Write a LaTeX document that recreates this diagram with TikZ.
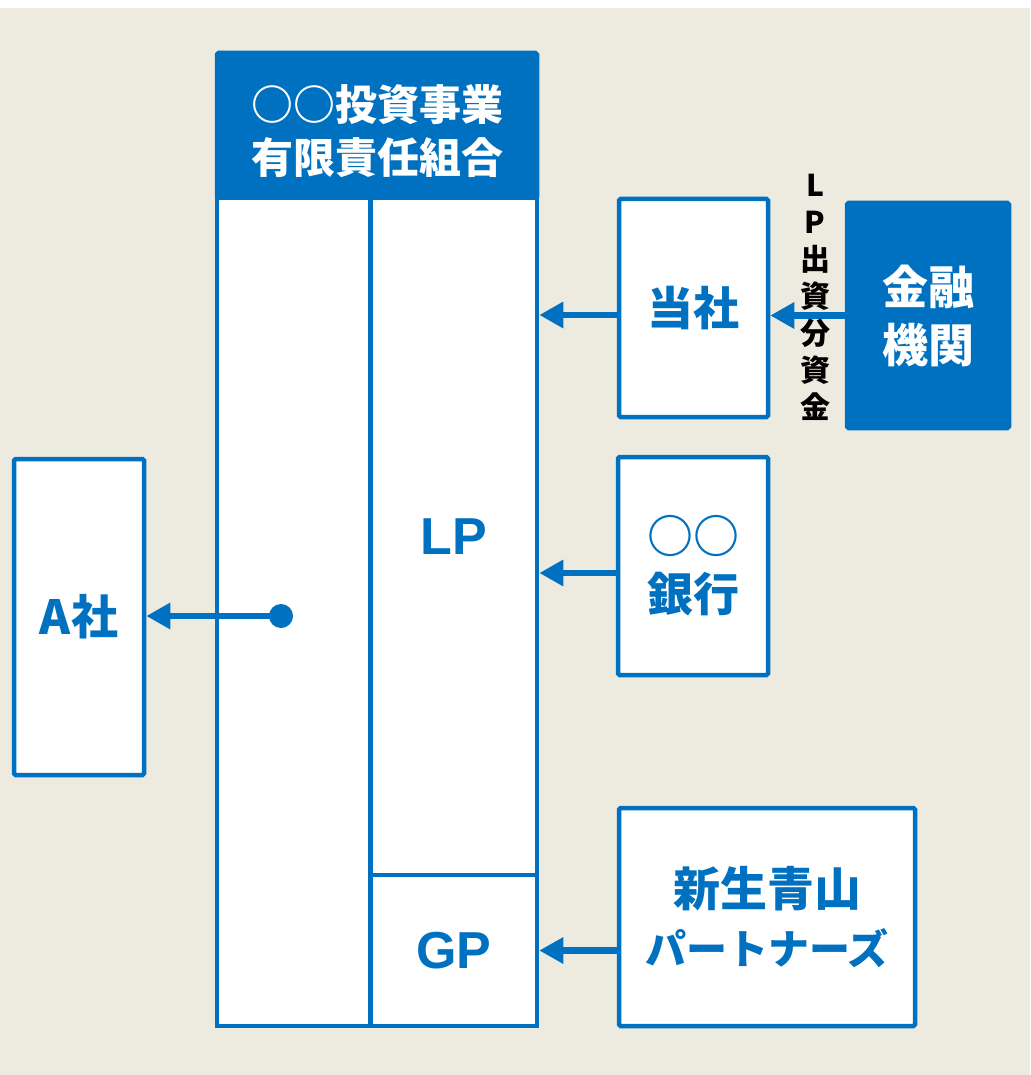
\documentclass[tikz,border=0pt]{standalone}
\usepackage{fontspec}
\setmainfont{Noto Sans CJK JP}
\newfontfamily\latinfont{Liberation Sans}
\usetikzlibrary{arrows.meta}
\definecolor{fblue}{RGB}{0,113,192}
\definecolor{bgc}{RGB}{237,235,224}
\begin{document}
\begin{tikzpicture}[x=1pt,y=-1pt,
  box/.style={draw=fblue, line width=4.5pt, fill=white, rounded corners=1.5pt, inner sep=0pt,
    text=fblue, font=\fontsize{46}{58}\selectfont\bfseries, align=center},
  part/.style={draw=fblue, line width=4.5pt, fill=white, inner sep=0pt, text=fblue,
    font=\latinfont\fontsize{52}{60}\selectfont\bfseries},
  conn/.style={draw=fblue, line width=6.5pt, -{Triangle[length=24pt,width=25pt]}},
]
\useasboundingbox (0,0) rectangle (1030,1075);
\fill[bgc] (0,8) rectangle (1030,1075);

% fund
\node[part, fill=fblue, rounded corners=1.5pt, minimum width=320pt, minimum height=145pt] (hdr) at (377,125.5) {};
\node[text=white, font=\fontsize{42}{53}\selectfont\bfseries, align=center] (hdrt) at ([yshift=-6pt]hdr.center) {○○投資事業\\有限責任組合};
\node[part, minimum width=153.5pt, minimum height=828pt] (col) at (293.75,612) {};
\node[part, minimum width=166.5pt, minimum height=677pt] (lp) at (453.75,536.5) {LP};
\node[part, minimum width=166.5pt, minimum height=151pt] (gp) at (453.75,950.5) {GP};

% side boxes
\node[box, font=\fontsize{47}{58}\selectfont\bfseries, minimum width=130pt, minimum height=316pt] (asha) at (79,617) {A社};
\node[box, minimum width=149pt, minimum height=218pt] (tosha) at (693.5,308) {当社};
\node[box, fill=fblue, text=white, minimum width=162pt, minimum height=225pt] (kin) at (928,315.5) {金融\\機関};
\node[box, minimum width=150pt, minimum height=218pt] (bank) at (693,566) {○○\\銀行};
\node[box, minimum width=296pt, minimum height=218pt] (sp) at (767,917) {{\fontsize{47}{58}\selectfont 新生青山}\\{\fontsize{41}{58}\selectfont パートナーズ}};

% connectors
\node[circle, fill=fblue, inner sep=0pt, minimum size=24pt] (dot) at (281,616) {};
\draw[conn] (dot.center) -- (asha.east |- dot.center);
\draw[conn] (tosha.west |- 0,315) -- (lp.east |- 0,315);
\draw[conn] (kin.west) -- (tosha.east |- kin.west);
\draw[conn] (bank.west |- 0,573) -- (lp.east |- 0,573);
\draw[conn] (sp.west |- gp.east) -- (gp.east);

% vertical label
\node[text=black, font=\fontsize{30}{37}\selectfont\bfseries, align=center, inner sep=0pt] (vl) at (815,297) {L\\P\\出\\資\\分\\資\\金};
\end{tikzpicture}
\end{document}
